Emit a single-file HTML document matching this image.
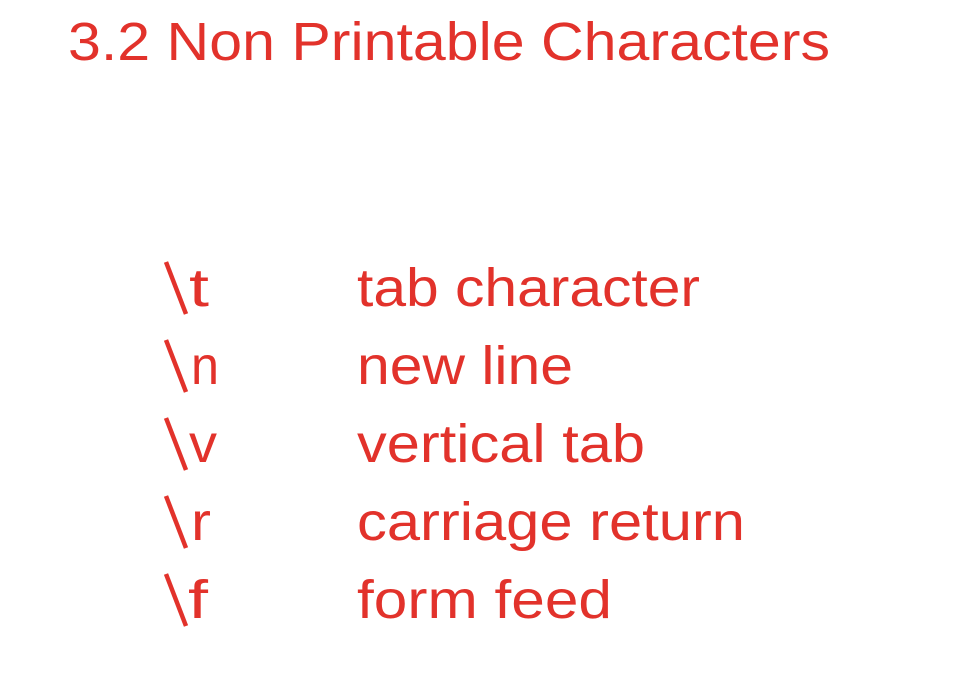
<!DOCTYPE html>
<html><head><meta charset="utf-8"><style>
html,body{margin:0;padding:0;background:#fff;width:967px;height:688px;overflow:hidden}
svg text{font-family:"Liberation Sans",sans-serif;fill:#e2322b}
</style></head><body>
<svg width="967" height="688" xmlns="http://www.w3.org/2000/svg">
<text x="68" y="60" font-size="54" textLength="762" lengthAdjust="spacingAndGlyphs">3.2  Non Printable Characters</text>
<g stroke="#e2322b" stroke-width="4.5" stroke-linecap="butt">
<line x1="166" y1="262" x2="186" y2="314"/>
<line x1="166" y1="340" x2="186" y2="392"/>
<line x1="166" y1="418" x2="186" y2="470"/>
<line x1="166" y1="496" x2="186" y2="548"/>
<line x1="166" y1="574" x2="186" y2="626"/>
</g>
<g font-size="54">
<text x="189" y="306" textLength="20" lengthAdjust="spacingAndGlyphs">t</text>
<text x="357" y="306" textLength="343" lengthAdjust="spacingAndGlyphs">tab character</text>
<text x="191" y="384" textLength="28" lengthAdjust="spacingAndGlyphs">n</text>
<text x="357" y="384" textLength="216" lengthAdjust="spacingAndGlyphs">new line</text>
<text x="189" y="462" textLength="28" lengthAdjust="spacingAndGlyphs">v</text>
<text x="357" y="462" textLength="288" lengthAdjust="spacingAndGlyphs">vertical tab</text>
<text x="191" y="540" textLength="20" lengthAdjust="spacingAndGlyphs">r</text>
<text x="357" y="540" textLength="388" lengthAdjust="spacingAndGlyphs">carriage return</text>
<text x="188" y="618" textLength="20" lengthAdjust="spacingAndGlyphs">f</text>
<text x="357" y="618" textLength="255" lengthAdjust="spacingAndGlyphs">form feed</text>
</g>
</svg>
</body></html>
